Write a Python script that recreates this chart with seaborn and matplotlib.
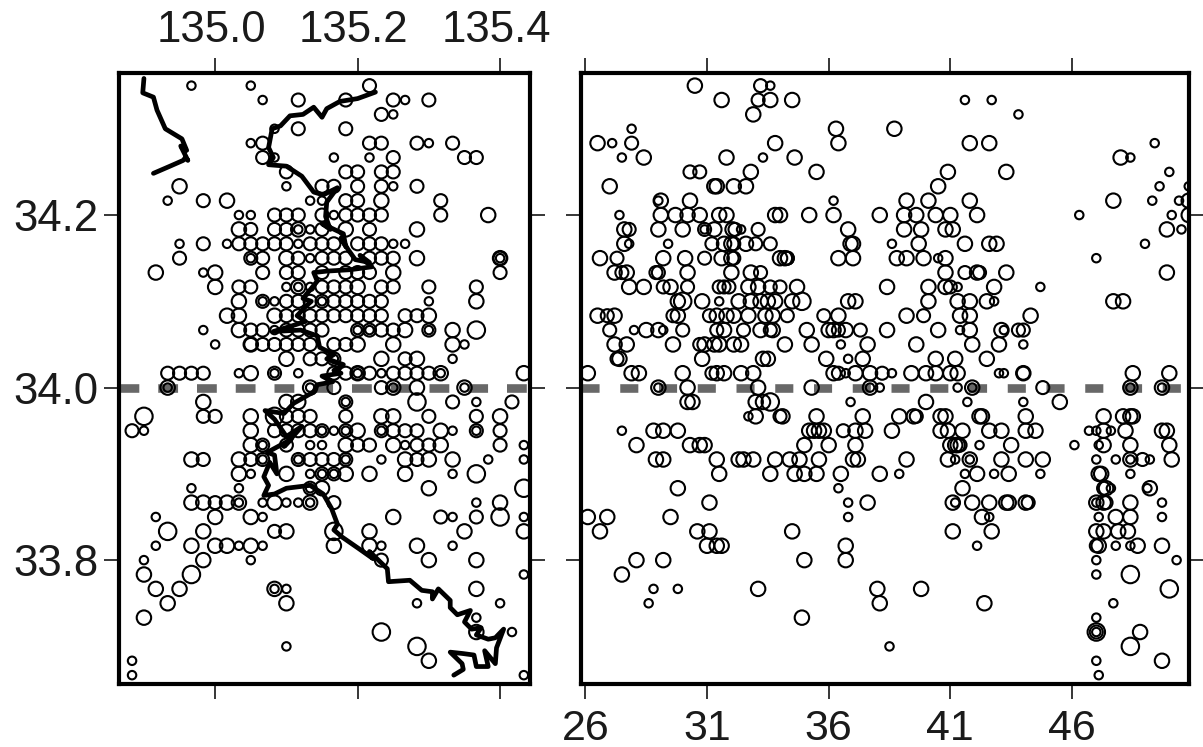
import matplotlib
matplotlib.use('Agg')
import matplotlib.pyplot as plt
from matplotlib.transforms import ScaledTranslation
import pandas as pd
import seaborn as sns

# rows are latitude in minutes from 34N, values are minutes east of 135E (left panel) or depth km (right panel)
left_small = {21: [-2, 3], 20: [4, 16], 19: [15], 18: [5], 17: [3, 18], 16: [5, 10, 13], 14: [6, 15],
              13: [-4, 8, 9], 12: [2, 3, 10], 11: [7, 8], 10: [-3, 1, 7, 15, 16], 9: [3, 8, 24], 8: [-1],
              7: [6, 7, 8], 6: [4, 5, 9, 18], 4: [-1, 5, 12, 13, 18], 3: [0, 21], 2: [10, 20],
              1: [2, 5, 7, 12, 14, 19], 0: [-4, 8, 15, 21], -1: [11, 22], -3: [-6, 9, 10, 11, 14, 20, 22],
              -4: [4, 8, 9, 16, 26], -5: [4, 7, 11, 14, 23, 26], -6: [3, 8, 9, 10, 20], -7: [-2, 2, 8],
              -8: [2, 4, 6, 7, 8, 22], -9: [-5, 4, 20, 26], -11: [-5, 2, 4, 14, 20], -12: [-6, 3],
              -13: [26], -14: [5, 6], -15: [17, 24], -16: [22], -17: [25], -18: [6], -19: [-7], -20: [-7, 26]}
left_mid = {21: [13], 20: [7, 11, 15, 18], 19: [14], 18: [7, 11], 17: [4, 13, 14, 17, 20], 16: [4, 15, 21, 22],
            15: [6, 11, 12, 14, 15], 14: [9, 10, 12, 14, 17], 13: [-1, 11, 12, 19],
            12: [5, 6, 7, 9, 11, 12, 13, 14, 19], 11: [3, 5, 6, 9, 13],
            10: [-1, 2, 3, 4, 5, 6, 8, 9, 10, 12, 13, 14], 9: [-3, 3, 4, 7, 9, 10, 11, 13, 14, 15, 24],
            8: [4, 6, 7, 9, 11, 12, 13, 24], 7: [2, 3, 9, 10, 11, 14, 15, 18, 22],
            6: [4, 6, 7, 8, 9, 10, 11, 12, 13, 14], 5: [6, 7, 8, 9, 10, 11, 12, 13, 14, 16, 17],
            4: [3, 4, 6, 7, 8, 9, 12, 13, 14, 15, 18], 3: [3, 4, 5, 6, 7, 8, 10, 11], 2: [8, 9, 10, 16],
            1: [-4, -3, -2, -1, 5, 10, 11, 12, 13, 15, 16, 17, 18], 0: [10, 14], -1: [11, 20, 25],
            -2: [-1, 0, 6, 7, 8, 11, 18, 22], -3: [-7, 5, 6, 7, 8, 9, 11, 14, 15, 16, 17, 22, 24],
            -4: [4, 6, 12, 13, 17, 18, 24], -5: [-1, 3, 4, 7, 8, 9, 10, 11, 17], -6: [9, 10], -7: [8],
            -8: [0, 10], -9: [19, 22], -10: [5], -12: [14]}
left_large = {14: [-3], 13: [1, 14], 12: [23], 11: [2, 7, 11, 17], 9: [6, 17, 24], 8: [-5, 0, 15], 7: [0, 7, 12],
              6: [2, 22], 5: [1, 2, 5, 18], 4: [2, 16, 20], 3: [3, 12, 15, 20], 2: [6, 14, 17],
              1: [3, 12, 19, 26], 0: [-4, 8, 15, 17, 21], -1: [-1, 6, 7], -2: [3, 14, 15, 24], -3: [3, 12, 19],
              -4: [3, 11, 15, 19], -5: [-2, 2, 16, 18, 20], -6: [2, 6, 11, 13, 16], -7: [9, 18],
              -8: [-2, -1, 1, 2, 5, 8, 24], -9: [0, 3, 15], -10: [-1, 6, 13, 21, 26],
              -11: [-2, 0, 1, 3, 10, 13, 17], -12: [-1, 18, 22], -13: [-6], -14: [-5, -3, 5, 22],
              -15: [-4, 6], -16: [-6], -17: [22], -19: [18]}
left_huge = {4: [22], -1: [17], -2: [-6, 5], -6: [22], -7: [26], -9: [24], -10: [-4, 10], -13: [-2], -17: [14], -18: [17]}

right_small = {21: [33.6], 20: [41.6, 42.7], 19: [43.8], 18: [27.9], 17: [27.1, 49.4], 16: [27.5, 33.3, 48.4],
               15: [50.0], 14: [49.6, 50.8], 13: [29.0, 36.2, 49.3, 50.4], 12: [27.4, 46.3, 50.1],
               11: [30.9, 32.4, 50.5], 10: [27.8, 29.4, 38.6, 49.0], 9: [40.5, 47.0], 7: [41.3, 44.7],
               6: [31.5, 42.8], 4: [28.0, 29.2, 41.4, 43.2], 3: [36.5, 44.0], 2: [36.8], 1: [36.7, 38.6, 43.0, 43.2],
               0: [29.0, 37.7, 38.1, 41.3, 41.9, 48.4, 49.7], -1: [36.9, 41.7, 44.0], -2: [32.7],
               -3: [27.5, 46.7, 47.0, 47.6], -4: [42.2, 46.1, 47.1], -5: [41.2, 41.8, 47.0, 47.8, 48.4, 49.2],
               -6: [38.9, 41.6, 42.8, 44.7, 48.4], -7: [36.4, 47.6, 49.1], -8: [36.8, 41.2, 47.0, 49.7],
               -9: [36.8, 42.6, 47.1, 49.7], -11: [42.1, 47.8, 48.4], -12: [47.0, 50.3], -13: [47.0],
               -14: [28.8, 29.8], -15: [28.6, 47.7], -16: [47.0], -17: [47.0], -18: [38.5], -19: [47.0], -20: [47.1]}
right_mid = {21: [33.2], 20: [33.1], 17: [27.9], 15: [30.3, 30.7], 11: [27.8, 30.9, 32.15, 33.1],
             10: [31.2, 32.1, 33.0, 33.6], 9: [27.3, 30.9, 32.1, 34.3, 34.3], 8: [27.5, 28.9, 29.0, 33.2, 41.6, 42.2],
             7: [29.2, 30.2, 31.5, 31.7, 31.9, 33.6, 34.0, 41.0], 5: [26.9, 29.6, 31.1, 34.3, 35.8, 39.9],
             4: [27.0, 30.0, 31.4, 32.5, 33.6, 36.4, 37.3, 43.8, 44.0], 3: [30.7], 2: [27.3], 1: [31.2, 36.4, 38.2, 44.0],
             0: [44.8], -2: [34.0, 39.6], -3: [36.6], -4: [41.4], -5: [48.9], -7: [47.3], -8: [44.2, 47.4],
             -11: [47.0], -17: [47.0]}
right_large = {21: [30.5], 20: [31.6, 33.6, 34.5], 19: [32.9], 18: [36.3, 38.7],
               17: [26.5, 33.8, 36.4, 41.8, 42.6], 16: [28.4, 31.8, 34.6, 48.0], 15: [32.8, 35.5, 40.9, 43.3],
               14: [27.0, 31.3, 31.4, 32.1, 32.6, 40.5], 13: [29.1, 30.3, 39.2, 40.1, 41.8, 47.7, 50.8],
               12: [29.1, 29.7, 30.2, 30.7, 31.5, 31.8, 33.8, 34.0, 35.2, 36.2, 38.1, 39.1, 39.6, 40.4, 41.0, 42.1, 50.8],
               11: [27.6, 29.0, 30.0, 31.3, 32.05, 36.8, 39.1, 39.8, 40.8, 41.1, 49.9],
               10: [27.6, 31.7, 32.0, 32.6, 36.9, 37.0, 39.7, 41.6, 42.6, 42.9],
               9: [26.6, 29.2, 30.1, 31.6, 32.0, 34.0, 34.2, 36.4, 37.0, 38.8, 39.2, 39.9, 40.8],
               8: [27.2, 27.7, 30.2, 32.0, 32.8, 40.8, 42.1, 43.3, 49.9],
               7: [27.8, 28.4, 29.5, 32.7, 33.1, 34.7, 38.4, 40.1, 40.8, 42.8],
               6: [29.8, 30.8, 32.3, 32.8, 33.2, 33.5, 33.8, 34.5, 36.8, 37.1, 40.1, 41.3, 41.8, 42.5, 47.7, 48.1],
               5: [26.5, 27.2, 29.8, 31.4, 31.8, 32.1, 32.7, 33.4, 33.7, 36.4, 39.2, 41.4, 41.8, 44.3],
               4: [28.5, 29.0, 31.7, 33.2, 33.7, 35.1, 36.0, 36.2, 36.7, 38.4, 40.5, 41.8, 43.1],
               3: [27.2, 27.7, 29.6, 30.9, 31.3, 31.5, 32.1, 32.4, 34.2, 35.3, 37.6, 39.6, 41.9, 43.0],
               2: [27.4, 30.8, 33.3, 33.5, 35.9, 37.4, 40.4, 41.2, 42.5],
               1: [26.1, 27.9, 28.2, 30.0, 31.4, 31.7, 32.4, 32.9, 36.2, 37.1, 37.7, 39.4, 40.0, 40.4, 41.0, 41.3, 44.0, 48.5, 50.0],
               0: [29.0, 30.2, 33.1, 35.3, 37.7, 41.9, 48.4, 49.7],
               -1: [30.2, 30.4, 33.0, 33.3, 40.0, 45.5],
               -2: [33.0, 34.1, 35.5, 37.4, 38.9, 39.5, 40.6, 40.8, 42.2, 42.3, 44.1, 47.3, 48.1, 48.4, 48.5],
               -3: [28.8, 29.2, 29.8, 35.2, 35.4, 35.6, 35.8, 37.1, 37.5, 38.6, 40.6, 40.9, 41.5, 42.6, 43.1, 44.1, 44.5, 47.3, 48.2, 49.7, 49.9],
               -4: [28.1, 30.3, 30.7, 30.9, 35.0, 36.0, 37.1, 41.0, 41.2, 41.3, 43.5, 47.3, 48.4, 50.0],
               -5: [28.9, 29.2, 31.4, 32.3, 32.5, 32.9, 33.8, 34.4, 34.8, 35.6, 37.0, 37.2, 39.2, 40.9, 41.8, 43.1, 44.1, 44.8, 48.4, 50.1],
               -6: [31.5, 33.6, 34.6, 35.0, 35.5, 36.5, 38.1, 42.1, 43.4, 47.1, 47.2],
               -7: [29.8, 41.5, 47.4, 49.2], -8: [31.1, 37.6, 41.1, 41.9, 42.6, 43.3, 43.4, 44.1, 47.0, 47.3, 48.4],
               -9: [26.1, 26.9, 29.5, 42.3, 47.8, 48.4], -10: [26.6, 30.6, 31.1, 34.5, 41.1, 42.7, 47.0, 47.3, 47.9, 48.3],
               -11: [31.0, 31.4, 31.6, 36.7, 47.1, 48.7, 49.7], -12: [28.1, 29.2, 35.0, 36.7], -13: [27.5],
               -14: [33.1, 38.0, 39.8], -15: [38.1, 42.4], -16: [34.9], -17: [48.8], -19: [49.7]}
right_huge = {6: [30.0, 34.9], -1: [33.6], -13: [48.4], -14: [50.0], -17: [47.0], -18: [48.4]}

# coast and fault traces, minutes from 135E / 34N
trace1_lon = [-6.0, -6.1, -5.2, -4.9, -4.2, -2.8, -2.4, -2.9, -2.3, -2.5, -2.7, -3.8, -5.2]
trace1_lat = [21.5, 20.5, 20.2, 19.3, 18.0, 17.3, 16.5, 16.8, 15.8, 16.0, 15.8, 15.4, 14.9]
trace2_lon = [13.5, 12.0, 10.5, 9.4, 9.0, 8.3, 7.4, 6.3, 5.5, 4.8, 4.5, 4.9, 4.5, 6.0, 7.3, 8.3, 9.1, 10.3, 9.4, 9.3,
              9.7, 9.0, 10.8, 11.0, 10.6, 11.2, 11.8, 13.0, 12.2, 13.2, 11.4, 9.4, 8.3, 8.6, 8.0, 7.4, 8.1, 7.7, 6.9, 7.6, 6.5, 4.9, 7.2, 8.6, 8.8,
              10.0, 9.4, 10.8, 10.0, 10.6, 9.0, 9.9, 8.6, 8.3, 6.6, 5.8, 4.2, 5.0, 6.0, 7.3, 5.8, 6.4, 4.4, 5.0, 5.2, 4.6, 4.1, 4.5, 4.1, 5.0, 6.0, 8.0, 9.1, 9.8, 10.3,
              10.0, 10.7, 12.1, 13.3, 13.0, 14.5, 14.6, 16.4, 17.4, 18.3, 18.3, 18.8, 19.8, 19.8, 20.4, 21.5, 21.0, 21.6, 22.4, 22.0, 23.0, 23.6,
              24.3, 23.7, 23.6, 22.7, 23.0, 22.0, 21.8, 20.9, 19.8, 20.8, 20.9, 20.1]
trace2_lat = [20.55, 20.1, 19.9, 19.4, 18.8, 19.5, 19.0, 18.9, 18.2, 18.0, 16.7, 16.0, 15.5, 15.4, 14.7, 13.6, 13.4, 13.9,
              12.9, 11.9, 11.0, 11.4, 10.7, 9.8, 10.4, 9.6, 8.9, 8.7, 9.2, 8.4, 8.2, 8.1, 8.0, 7.4, 6.8, 6.2, 6.0, 5.7, 5.0, 4.6, 4.3, 3.9, 4.0, 3.6, 2.8,
              2.3, 2.0, 1.6, 1.2, 1.0, 0.8, 0.4, 0.2, -0.3, -1.1, -1.8, -1.6, -2.2, -3.4, -2.7, -4.1, -3.6, -4.5, -4.7, -6.0, -5.2, -6.2, -6.8, -7.5, -7.4, -7.0, -6.8,
              -7.4, -8.4, -9.5, -9.9, -10.4, -11.2, -11.9, -11.4, -12.6, -13.5, -13.4, -14.1, -14.2, -14.7, -14.0, -14.8, -15.3, -15.8,
              -15.5, -16.3, -16.8, -16.7, -17.2, -17.5, -17.4, -16.8, -18.1, -19.2, -18.3, -19.4, -19.4, -18.6, -18.5, -18.4, -19.2,
              -19.6, -20.0]

lon_ticks = [135.0, 135.2, 135.4]
lat_ticks = [33.8, 34.0, 34.2]
depth_ticks = [26, 31, 36, 41, 46]

sns.set_style('white')
plt.rcParams['font.family'] = ['Liberation Sans', 'DejaVu Sans']

# ring areas
size_map = {'s': 37, 'm': 88, 'l': 108, 'x': 158}


def make_table(groups, to_x):
    rows = []
    for name, group in groups.items():
        for lat_min, values in group.items():
            for v in values:
                rows.append({'x': to_x(v), 'lat': 34 + lat_min / 60, 'mag': name})
    return pd.DataFrame(rows)


left_df = make_table({'s': left_small, 'm': left_mid, 'l': left_large, 'x': left_huge}, lambda v: 135 + v / 60)
right_df = make_table({'s': right_small, 'm': right_mid, 'l': right_large, 'x': right_huge}, lambda v: v)

fig = plt.figure(figsize=(12.03, 7.47), dpi=100)
ax1 = fig.add_axes([119 / 1203, 1 - 683.5 / 747, 411 / 1203, 610.8 / 747])
ax2 = fig.add_axes([581 / 1203, 1 - 683.5 / 747, 608 / 1203, 610.8 / 747])

for ax, df, dash in [(ax1, left_df, (2.3, 2.2)), (ax2, right_df, (2.1, 2.4))]:
    ax.axhline(34.0, color='#686868', lw=6.2, ls=(0, dash), dash_capstyle='butt', zorder=1)
    sns.scatterplot(data=df, x='x', y='lat', size='mag', sizes=size_map, facecolor='none', edgecolor='black',
                    linewidth=1.5, legend=False, ax=ax, zorder=3)

for tr_lon, tr_lat in [(trace1_lon, trace1_lat), (trace2_lon, trace2_lat)]:
    tr = pd.DataFrame({'lon': [135 + v / 60 for v in tr_lon], 'lat': [34 + v / 60 for v in tr_lat]})
    sns.lineplot(data=tr, x='lon', y='lat', sort=False, estimator=None, color='black', lw=3.4, ax=ax1, zorder=4)

ax1.set_xlim(134.865, 135.442)
ax2.set_xlim(25.82, 50.81)
for ax in (ax1, ax2):
    ax.set_ylim(33.657, 34.365)
    ax.set_xlabel('')
    ax.set_ylabel('')
    ax.set_yticks(lat_ticks)
    for s in ax.spines.values():
        s.set_linewidth(3.0)
        s.set_color('black')
    ax.tick_params(axis='both', which='major', length=10.5, width=1.1, color='black', labelcolor='#1a1a1a',
                   top=True, bottom=True, left=True, right=True)

ax1.set_xticks(lon_ticks)
ax1.set_xticklabels(['135.0', '135.2', '135.4'])
ax1.set_yticklabels(['33.8', '34.0', '34.2'])
ax1.tick_params(axis='x', labeltop=True, labelbottom=False, labelsize=31.5, pad=5)
ax1.tick_params(axis='y', labelsize=31.5, pad=4)
shift = ScaledTranslation(-4 / 100, 0, fig.dpi_scale_trans)
for lab in ax1.get_xticklabels():
    lab.set_transform(lab.get_transform() + shift)

ax2.set_xticks(depth_ticks)
ax2.set_xticklabels([str(d) for d in depth_ticks])
ax2.tick_params(axis='x', labelsize=31, pad=8)
ax2.tick_params(axis='y', labelleft=False)

fig.savefig('out.png', dpi=100)
